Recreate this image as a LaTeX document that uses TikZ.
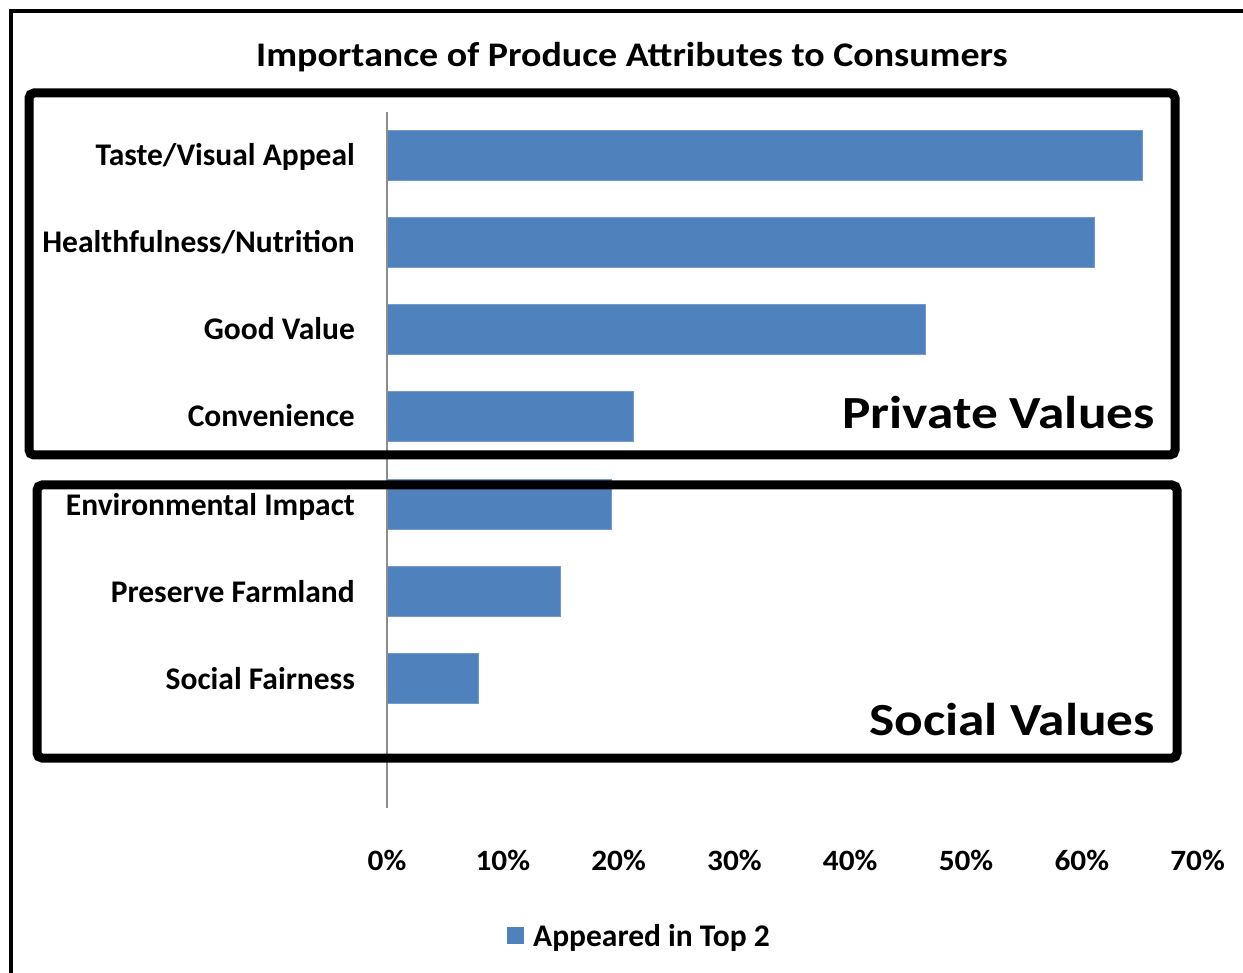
\documentclass[tikz,border=0pt]{standalone}
\usepackage{fontspec}
\setmainfont{Carlito}
\definecolor{barblue}{RGB}{79,129,189}
\definecolor{axisgray}{RGB}{140,140,140}
\begin{document}
\begin{tikzpicture}[x=1pt,y=-1pt,
  frame/.style={line width=4pt},
  groupbox/.style={line width=9pt,rounded corners=5pt},
  bar/.style={fill=barblue,draw=barblue!80!white,line width=0.8pt},
  cat/.style={anchor=base east,font=\fontsize{31.5}{36}\selectfont\bfseries,inner sep=0pt},
  tick/.style={anchor=base,font=\fontsize{29.5}{34}\selectfont\bfseries,inner sep=0pt},
  big/.style={anchor=base east,font=\fontsize{46}{52}\selectfont\bfseries,inner sep=0pt}]
\useasboundingbox (0,0) rectangle (1243,973);
\fill[white] (0,0) rectangle (1243,973);
% outer frame (top and left visible)
\draw[frame] (11,973) -- (11,11) -- (1243,11);
% title
\node[anchor=base,font=\fontsize{34.5}{40}\selectfont\bfseries,inner sep=0pt] (title) at (632,67) {\scalebox{1.1}[1]{Importance of Produce Attributes to Consumers}};
% bars
\def\xz{387}
\def\sc{11.58}
\foreach \v/\yc [count=\i] in {65.2/155,61.1/242,46.5/329,21.3/416,19.4/504,15.0/591,7.9/678}{
  \fill[bar] (\xz,\yc-25) rectangle ({\xz+\v*\sc},\yc+25);
}
% axis
\draw[axisgray,line width=1.2pt] (\xz,112) -- (\xz,808);
% category labels
\node[cat] (c1) at (355,166) {Taste/Visual Appeal};
\node[cat] (c2) at (355,253) {Healthfulness/Nutrition};
\node[cat] (c3) at (355,340) {Good Value};
\node[cat] (c4) at (355,427) {Convenience};
\node[cat] (c5) at (355,515) {Environmental Impact};
\node[cat] (c6) at (355,602) {Preserve Farmland};
\node[cat] (c7) at (355,689) {Social Fairness};
% ticks
\foreach \p [count=\i] in {0,10,20,30,40,50,60,70}{
  \node[tick] (t\i) at ({\xz+\p*\sc},870) {\scalebox{1.06}[1]{\p\%}};
}
% group boxes
\draw[groupbox] (29,93) rectangle (1175,455);
\draw[groupbox] (37,485) rectangle (1177,758);
\node[big] (pv) at (1155,429) {\scalebox{1.16}[1]{Private Values}};
\node[big] (sv) at (1155,735) {\scalebox{1.16}[1]{Social Values}};
% legend
\fill[barblue] (507,927) rectangle (524,944);
\node[anchor=base west,font=\fontsize{31.5}{36}\selectfont\bfseries,inner sep=0pt] (leg) at (533,946.5) {Appeared in Top 2};
\end{tikzpicture}
\end{document}
